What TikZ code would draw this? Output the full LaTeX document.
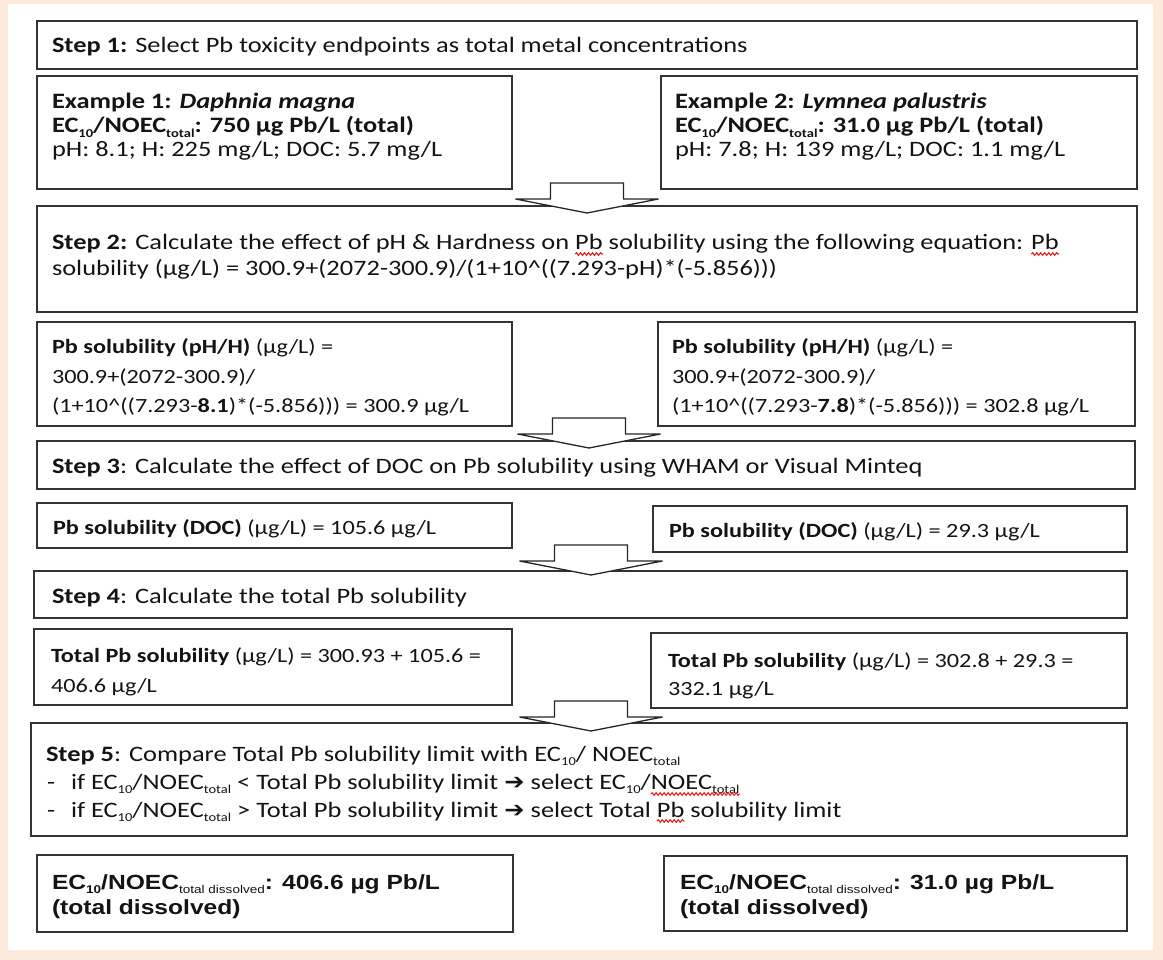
\documentclass[tikz,border=0pt]{standalone}
\usepackage{fontspec}
\setmainfont{Carlito}[FakeStretch=1.2]
\newfontfamily\arialfont{Liberation Sans}[FakeStretch=1.2]
\newfontfamily\dvfont{DejaVu Sans}[FakeStretch=1.1]
\usetikzlibrary{calc,decorations.pathmorphing,shadows}
\definecolor{peach}{RGB}{252,234,220}
\definecolor{ink}{RGB}{20,20,20}
\definecolor{squig}{RGB}{230,30,30}
\newcommand\stepfont{\fontsize{22}{26}\selectfont}
\newcommand\smfont{\fontsize{20.2}{24}\selectfont}
\newcommand\finfont{\arialfont\bfseries\fontsize{20.5}{24}\selectfont}
\newcommand\sub[1]{\raisebox{-0.2em}{\scalebox{0.55}{#1}}}
\newcommand\harr{{\dvfont\char"2794}}
\newlength\mlen
\newcommand\mywidth[2]{\settowidth{\mlen}{#2}\xdef#1{\strip@pt\mlen}}
\makeatletter
\let\mystrip\strip@pt
\makeatother
\renewcommand\mywidth[2]{\settowidth{\mlen}{#2}\xdef#1{\mystrip\mlen}}
\tikzset{
 box/.style={draw=black!80, line width=1.4pt, fill=white, inner sep=0pt, outer sep=0pt, anchor=north west,
   drop shadow={shadow xshift=1pt, shadow yshift=-1pt, opacity=0.25}},
 txt/.style={inner sep=0pt, outer sep=0pt, anchor=base west, text=ink, font=\stepfont},
 stxt/.style={txt, font=\smfont},
 ftxt/.style={txt, font=\finfont},
 barrow/.style={draw=black!85, fill=white, line width=1.3pt, line join=miter},
 wavy/.style={color=squig, line width=1.1pt, decorate, decoration={snake, amplitude=1.3pt, segment length=4pt}},
 blockarr/.pic={\path[barrow] (-36.5,-30) -- (36.5,-30) -- (36.5,-14) -- (71.5,-14) -- (0,0) -- (-71.5,-14) -- (-36.5,-14) -- cycle;}
}
\begin{document}
\mywidth\wdA{\stepfont\textbf{Step 2:} Calculate the effect of pH \& Hardness on }%
\mywidth\wdB{\stepfont\textbf{Step 2:} Calculate the effect of pH \& Hardness on Pb solubility using the following equation: }%
\mywidth\wdPb{\stepfont Pb}%
\mywidth\wdC{\stepfont if EC\sub{10}/NOEC\sub{total} < Total Pb solubility limit \harr{} select EC\sub{10}/}%
\mywidth\wdN{\stepfont NOEC\sub{total}}%
\mywidth\wdD{\stepfont if EC\sub{10}/NOEC\sub{total} > Total Pb solubility limit \harr{} select Total }%
\begin{tikzpicture}[x=1pt,y=-1pt]
\fill[peach] (0,0) rectangle (1163,960);
\fill[white] (8,4) rectangle (1153,950);
\useasboundingbox (0,0) rectangle (1163,960);

% boxes
\node[box, minimum width=1100pt, minimum height=48pt] (step1) at (37,21) {};
\node[box, minimum width=475pt, minimum height=113pt] (ex1) at (37,76) {};
\node[box, minimum width=476pt, minimum height=113pt] (ex2) at (661,76) {};
\node[box, minimum width=1100pt, minimum height=106pt] (step2) at (37,206) {};
\node[box, minimum width=475pt, minimum height=104pt] (ph1) at (37,322) {};
\node[box, minimum width=477pt, minimum height=104pt] (ph2) at (658,322) {};
\node[box, minimum width=1098pt, minimum height=48pt] (step3) at (37,441) {};
\node[box, minimum width=475pt, minimum height=45pt] (doc1) at (37,503) {};
\node[box, minimum width=474pt, minimum height=46pt] (doc2) at (653,506) {};
\node[box, minimum width=1093pt, minimum height=47pt] (step4) at (34,571) {};
\node[box, minimum width=478pt, minimum height=76pt] (tot1) at (34,629) {};
\node[box, minimum width=476pt, minimum height=75pt] (tot2) at (651,633) {};
\node[box, minimum width=1096pt, minimum height=113pt] (step5) at (31,723) {};
\node[box, minimum width=476pt, minimum height=77pt] (fin1) at (37,855) {};
\node[box, minimum width=463pt, minimum height=75pt] (fin2) at (664,856) {};

% step 1
\node[txt] (s1t) at ($(step1.north west)+(15,32)$) {\textbf{Step 1:} Select Pb toxicity endpoints as total metal concentrations};

% examples
\node[txt] (e1a) at ($(ex1.north west)+(15,33)$) {\textbf{Example 1: \textit{Daphnia magna}}};
\node[txt] (e1b) at ($(ex1.north west)+(15,57)$) {\textbf{EC\sub{10}/NOEC\sub{total}: 750 µg Pb/L (total)}};
\node[txt] (e1c) at ($(ex1.north west)+(15,81)$) {pH: 8.1; H: 225 mg/L; DOC: 5.7 mg/L};
\node[txt] (e2a) at ($(ex2.north west)+(14,33)$) {\textbf{Example 2: \textit{Lymnea palustris}}};
\node[txt] (e2b) at ($(ex2.north west)+(14,57)$) {\textbf{EC\sub{10}/NOEC\sub{total}: 31.0 µg Pb/L (total)}};
\node[txt] (e2c) at ($(ex2.north west)+(14,81)$) {pH: 7.8; H: 139 mg/L; DOC: 1.1 mg/L};

% step 2
\node[txt] (s2a) at ($(step2.north west)+(15,44)$) {\textbf{Step 2:} Calculate the effect of pH \& Hardness on Pb solubility using the following equation: Pb};
\node[txt] (s2b) at ($(step2.north west)+(15,70)$) {solubility (µg/L) = 300.9+(2072-300.9)/(1+10\textasciicircum((7.293-pH)*(-5.856)))};

% pH/H boxes
\node[stxt] (p1a) at ($(ph1.north west)+(15,31)$) {\textbf{Pb solubility (pH/H)} (µg/L) =};
\node[stxt] (p1b) at ($(ph1.north west)+(15,61)$) {300.9+(2072-300.9)/};
\node[stxt] (p1c) at ($(ph1.north west)+(15,90)$) {(1+10\textasciicircum((7.293-\textbf{8.1})*(-5.856))) = 300.9 µg/L};
\node[stxt] (p2a) at ($(ph2.north west)+(14,31)$) {\textbf{Pb solubility (pH/H)} (µg/L) =};
\node[stxt] (p2b) at ($(ph2.north west)+(14,61)$) {300.9+(2072-300.9)/};
\node[stxt] (p2c) at ($(ph2.north west)+(14,90)$) {(1+10\textasciicircum((7.293-\textbf{7.8})*(-5.856))) = 302.8 µg/L};

% step 3
\node[txt] (s3t) at ($(step3.north west)+(15,32)$) {\textbf{Step 3}: Calculate the effect of DOC on Pb solubility using WHAM or Visual Minteq};
\node[stxt] (d1) at ($(doc1.north west)+(16,31)$) {\textbf{Pb solubility (DOC)} (µg/L) = 105.6 µg/L};
\node[stxt] (d2) at ($(doc2.north west)+(16,31)$) {\textbf{Pb solubility (DOC)} (µg/L) = 29.3 µg/L};

% step 4
\node[txt] (s4t) at ($(step4.north west)+(18,32)$) {\textbf{Step 4}: Calculate the total Pb solubility};
\node[stxt] (t1a) at ($(tot1.north west)+(17,33)$) {\textbf{Total Pb solubility} (µg/L) = 300.93 + 105.6 =};
\node[stxt] (t1b) at ($(tot1.north west)+(17,63)$) {406.6 µg/L};
\node[stxt] (t2a) at ($(tot2.north west)+(17,34)$) {\textbf{Total Pb solubility} (µg/L) = 302.8 + 29.3 =};
\node[stxt] (t2b) at ($(tot2.north west)+(17,62)$) {332.1 µg/L};

% step 5
\node[txt] (s5a) at ($(step5.north west)+(15,38)$) {\textbf{Step 5}: Compare Total Pb solubility limit with EC\sub{10}/ NOEC\sub{total}};
\node[txt] (s5d1) at ($(step5.north west)+(16,66)$) {-};
\node[txt] (s5b) at ($(step5.north west)+(40,66)$) {if EC\sub{10}/NOEC\sub{total} < Total Pb solubility limit \harr{} select EC\sub{10}/NOEC\sub{total}};
\node[txt] (s5d2) at ($(step5.north west)+(16,94)$) {-};
\node[txt] (s5c) at ($(step5.north west)+(40,94)$) {if EC\sub{10}/NOEC\sub{total} > Total Pb solubility limit \harr{} select Total Pb solubility limit};

% final
\node[ftxt] (f1a) at ($(fin1.north west)+(15,34)$) {EC\sub{10}/NOEC\sub{\mdseries total dissolved}: 406.6 µg Pb/L};
\node[ftxt] (f1b) at ($(fin1.north west)+(15,59)$) {(total dissolved)};
\node[ftxt] (f2a) at ($(fin2.north west)+(16,33)$) {EC\sub{10}/NOEC\sub{\mdseries total dissolved}: 31.0 µg Pb/L};
\node[ftxt] (f2b) at ($(fin2.north west)+(16,58)$) {(total dissolved)};

% spell-check squiggles
\coordinate (q1) at ($(s2a.base west)+(\wdA,4)$);
\coordinate (q2) at ($(s2a.base west)+(\wdB,4)$);
\coordinate (q3) at ($(s5b.base west)+(\wdC,5)$);
\coordinate (q4) at ($(s5c.base west)+(\wdD,4)$);
\draw[wavy] (q1) -- ($(q1)+(\wdPb,0)$);
\draw[wavy] (q2) -- ($(q2)+(\wdPb,0)$);
\draw[wavy] (q3) -- ($(q3)+(\wdN,0)$);
\draw[wavy] (q4) -- ($(q4)+(\wdPb,0)$);

% block arrows
\coordinate (a1) at ($(step2.north)+(0,7)$);
\coordinate (a2) at ($(step3.north)+(3,7)$);
\coordinate (a3) at ($(step4.north)+(10.5,4)$);
\coordinate (a4) at ($(step5.north)+(12,8)$);
\pic at (a1) {blockarr};
\pic at (a2) {blockarr};
\pic at (a3) {blockarr};
\pic at (a4) {blockarr};
\end{tikzpicture}
\end{document}
